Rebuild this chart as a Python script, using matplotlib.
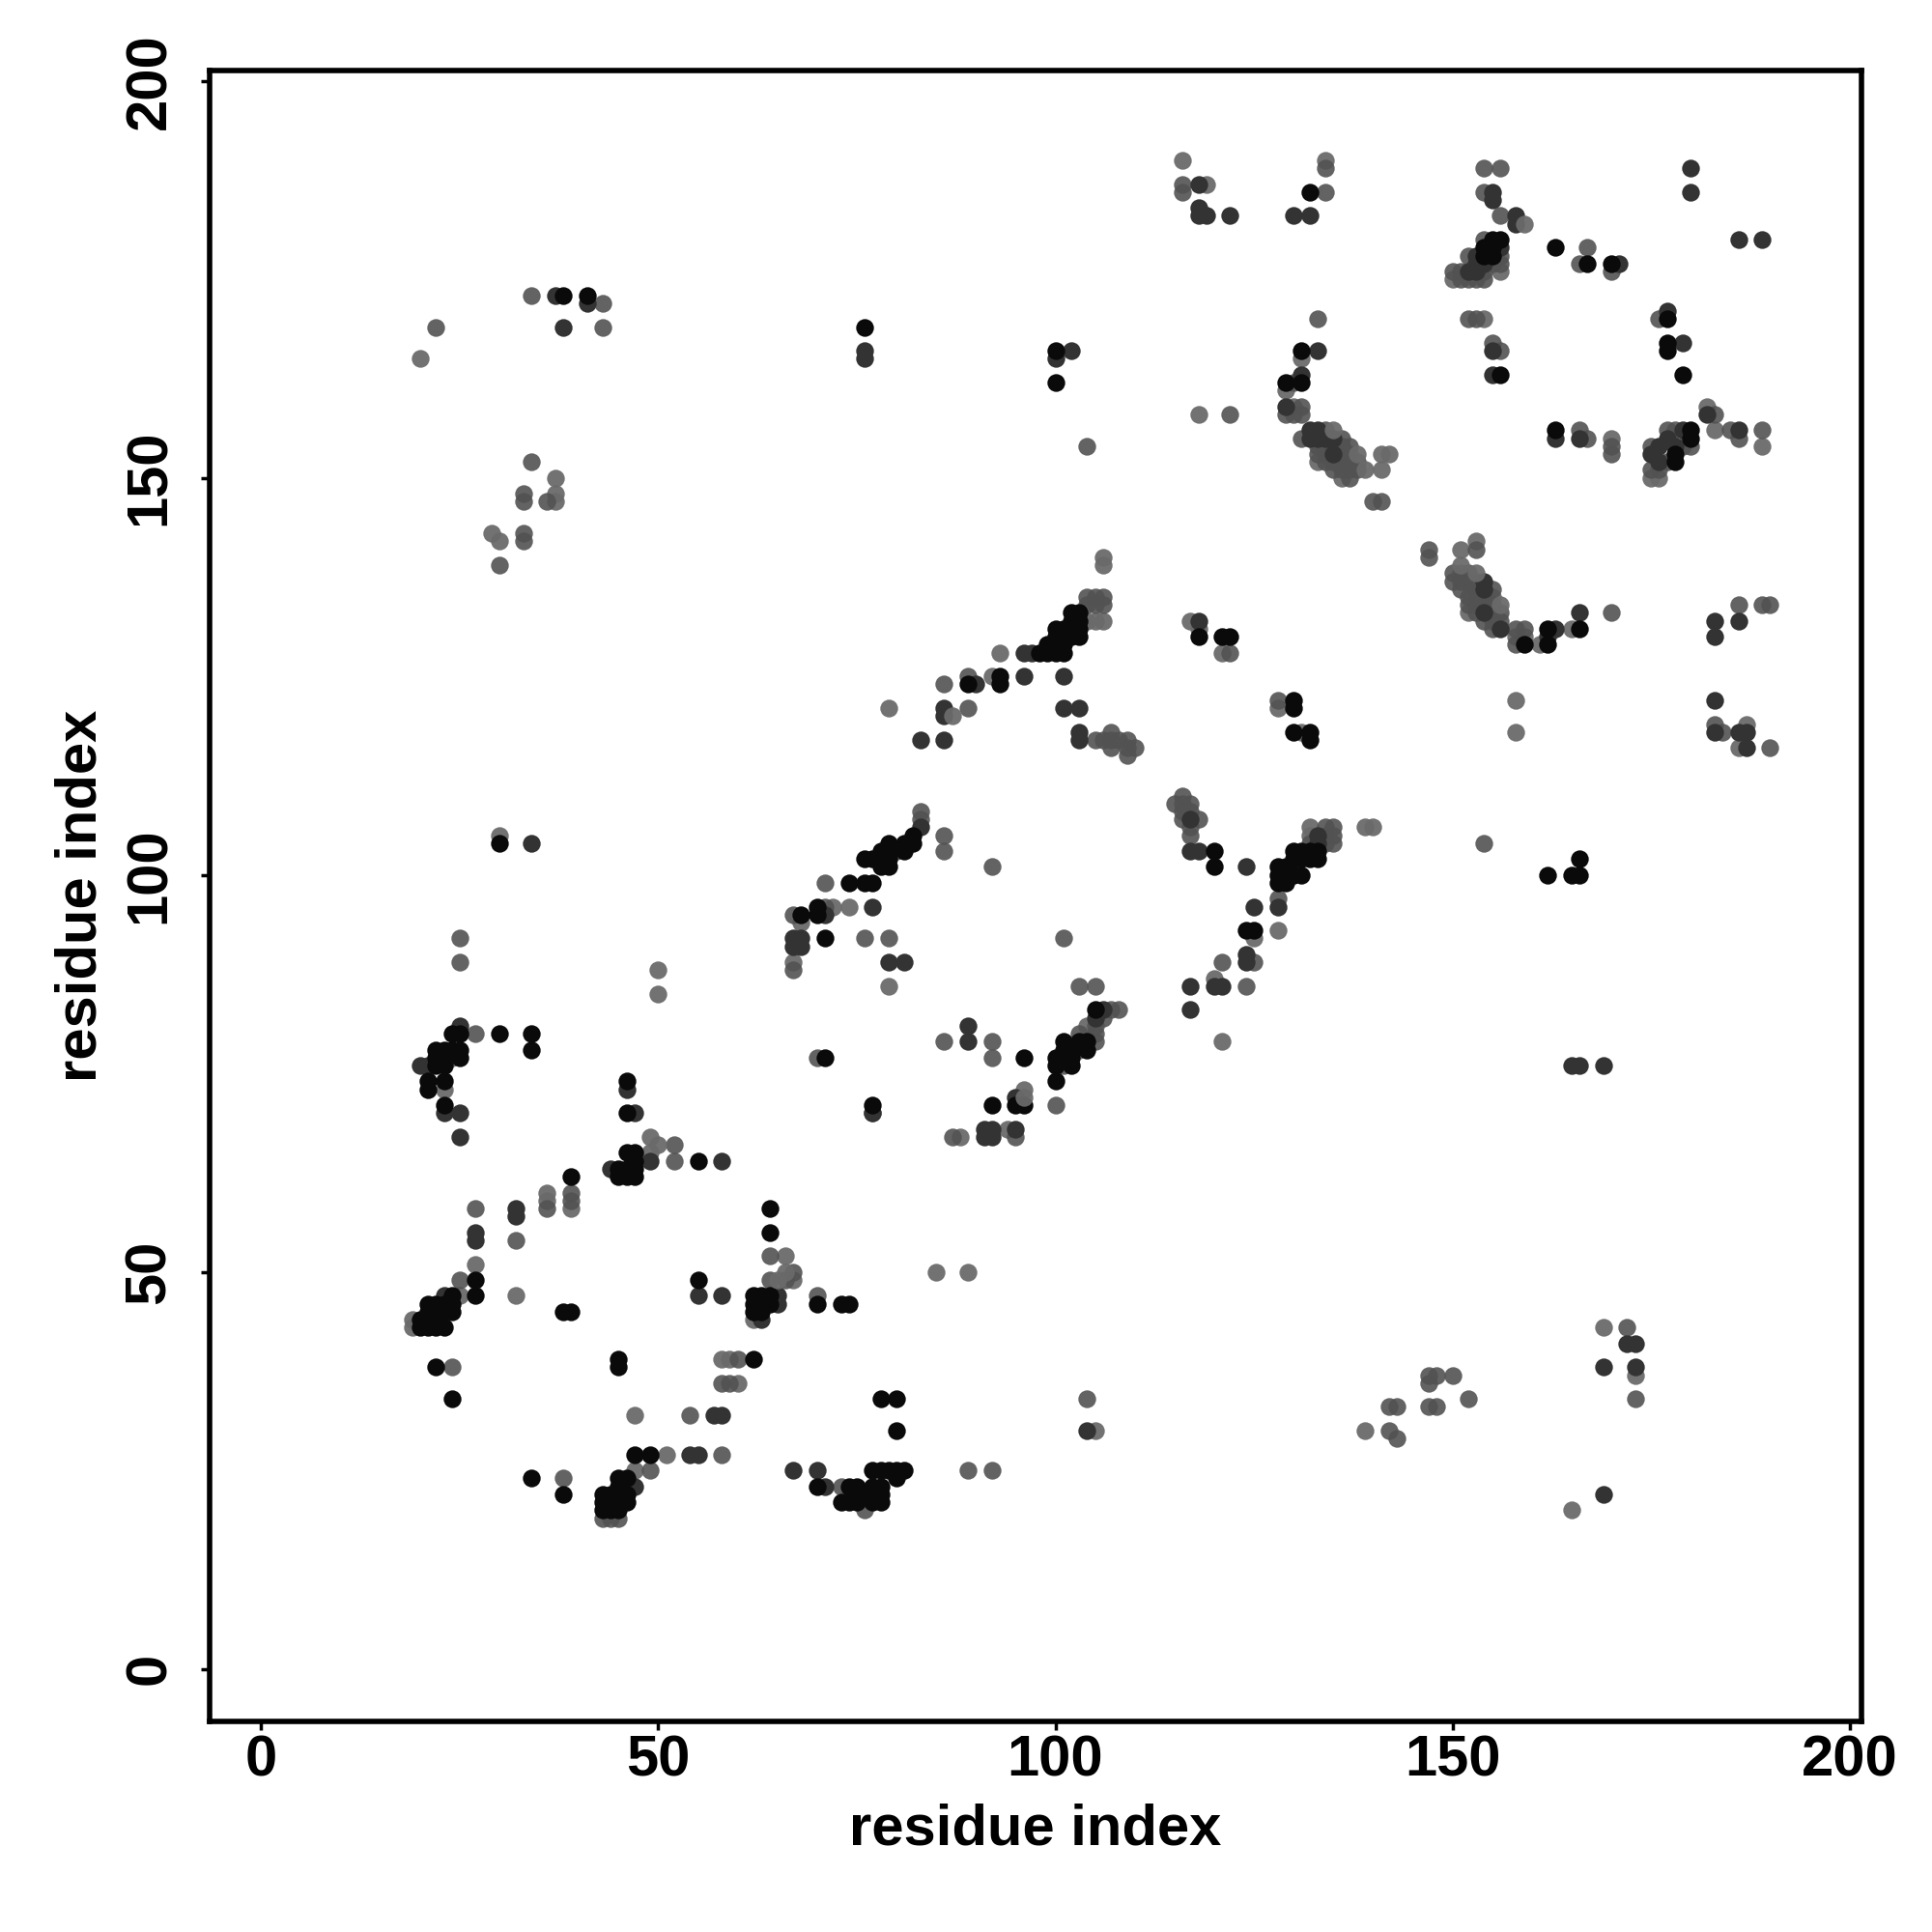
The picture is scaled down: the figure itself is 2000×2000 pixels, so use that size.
import matplotlib
matplotlib.use("Agg")
import matplotlib.pyplot as plt

# contacts grouped by how dark they are, (residue, residue)
light_points = [
    (49,65),(36,60),(36,59),(39,58),(27,51),(25,47),(32,47),(67,49),
    (66,52),(58,39),(59,39),(60,36),(47,32),(51,27),(47,25),(62,44),(19,44),(19,43),(105,30),(139,30),
    (50,88),(50,85),(85,50),(89,50),(24,77),(23,73),(72,96),(74,96),(68,94),(67,89),(79,86),(96,73),
    (94,68),(88,67),(103,78),(104,81),(121,79),(132,106),(132,105),(139,106),(140,106),(125,92),(128,93),
    (120,87),(106,140),(106,139),(104,132),(105,132),(106,132),(93,128),(92,125),(117,132),
    (118,131),(121,128),(128,121),(131,118),(79,121),(131,165),(129,161),(130,159),
    (133,152),(141,153),(142,153),(141,151),(136,150),(170,155),(151,141),(153,142),
    (151,138),(155,135),(152,133),(158,130),(159,130),(161,129),(165,131),
    (158,122),(158,118),(187,119),(186,116),(156,176),(150,175),(154,170),(182,159),(183,156),
    (175,150),(176,150),(189,154),(116,190),(119,187),(134,190),(118,158),(20,165),(37,150),(37,148),
    (37,147),(29,143),(30,142),(30,105),(173,37),(169,43),(165,20),
]
mid_points = [
    (52,66),(25,49),(52,64),(39,59),(39,60),(36,58),(32,54),(27,58),(64,52),(64,49),(66,49),(67,50),
    (70,47),(24,38),(58,36),(59,36),(60,39),(54,32),(58,27),(49,25),(38,24),(73,23),(43,19),(44,19),
    (45,19),(76,20),(89,25),(92,25),(104,34),(142,30),(143,29),(142,33),(143,33),(147,33),(148,33),
    (147,36),(147,37),(148,37),(150,37),(152,34),(172,43),(173,34),(27,80),(25,89),(25,92),(71,99),
    (67,95),(71,96),(76,92),(79,92),(67,88),(86,79),(92,79),(92,77),(87,67),(95,67),(100,71),
    (101,92),(92,101),(86,103),(86,105),(101,76),(103,80),(105,80),(105,79),(106,82),(107,83),(108,83),
    (103,86),(105,86),(70,77),(77,70),(124,86),(125,89),(121,89),(117,109),(115,109),(116,110),(116,109),
    (116,108),(117,108),(116,107),(118,107),(117,105),(117,106),(130,101),(132,104),(134,105),(135,105),
    (134,106),(135,106),(134,104),(135,104),(104,135),(105,135),(106,135),(104,134),(105,134),(106,134),
    (89,125),(86,124),(89,121),(105,117),(106,117),(107,118),(107,117),(107,116),(108,117),(109,117),
    (109,116),(110,116),(109,115),(83,108),(83,107),(128,122),(122,128),(129,158),(130,158),(131,159),
    (131,158),(130,162),(131,155),(134,156),(133,153),(134,152),(135,151),(136,155),(137,154),(137,152),
    (138,152),(137,151),(138,151),(137,150),(140,147),(141,147),(155,167),(156,166),(166,156),(167,155),
    (170,154),(170,153),(147,141),(147,140),(153,141),(150,138),(152,138),(150,137),(151,137),(152,137),
    (153,137),(155,136),(151,136),(153,136),(152,135),(154,135),(155,134),(152,134),(156,133),(155,132),
    (158,131),(159,131),(158,129),(170,133),(186,134),(189,134),(190,134),(183,119),(184,118),(190,116),
    (154,189),(156,189),(154,186),(156,183),(154,180),(152,178),(156,178),(156,177),(155,177),(150,176),
    (151,176),(154,176),(151,175),(152,175),(153,175),(154,175),(152,170),(153,170),(176,170),(166,177),
    (167,179),(170,176),(183,158),(185,156),(189,156),(186,155),(177,156),(178,156),(175,154),(179,154),
    (180,154),(177,152),(175,151),(176,151),(116,187),(116,186),(134,189),(134,186),(122,158),(104,154),
    (133,170),(22,169),(34,173),(43,172),(43,169),(34,152),(33,148),(33,147),(36,147),(33,143),(33,142),
    (30,139),(154,104),(128,97),(80,103),(105,81),
    (133,154),(134,154),(135,154),(136,154),(134,153),(136,153),(137,153),(135,152),(136,152),(136,151),
    (153,135),(153,134),(154,134),(153,133),(155,133),(154,132),(156,132),(155,131),
]
dark_points = [
    (23,70),(25,70),(47,70),(25,67),(77,70),(44,63),(49,64),(58,64),(32,58),(32,57),(27,55),(27,54),
    (23,47),(55,47),(58,47),(65,47),(65,46),(63,44),(57,32),(58,32),(54,27),(55,27),(67,25),(70,25),
    (71,23),(46,23),(47,23),(104,30),(169,22),(169,38),(172,41),(173,41),(173,38),(25,81),
    (20,76),(21,76),(46,73),(71,95),(67,92),(68,92),(67,91),(68,91),(77,96),(79,89),(81,89),(89,81),
    (89,79),(95,72),(91,68),(92,68),(95,68),(91,67),(92,67),(105,82),(106,83),(117,86),(120,86),(121,86),
    (117,83),(124,90),(124,89),(128,96),(125,96),(133,105),(133,104),(117,107),(117,103),(118,103),
    (124,101),(96,128),(97,128),(90,124),(96,125),(101,125),(86,121),(86,120),(101,121),(103,121),(83,117),
    (86,117),(103,118),(103,117),(83,106),(118,132),(131,163),(129,159),(132,156),(133,156),(134,155),
    (135,155),(132,155),(133,155),(135,153),(155,166),(155,163),(163,155),(166,155),(133,166),(154,137),
    (154,136),(154,133),(156,131),
    (162,130),(163,131),(166,133),(183,132),(186,132),(183,130),(183,122),(183,118),(186,118),(187,118),
    (187,116),(180,189),(180,186),(155,186),(155,185),(158,183),(158,182),(186,180),(189,180),
    (156,179),(153,178),(153,177),(154,177),(152,176),(153,176),(171,177),(177,171),(179,167),(182,158),
    (186,156),(176,154),(177,155),(179,156),(178,154),(175,153),(176,152),(118,187),(118,184),(118,183),
    (119,183),(122,183),(130,183),(132,183),(76,166),(76,165),(100,165),(102,166),(41,172),(38,169),
    (37,173),(34,104),(165,76),(166,76),(169,76),
]
black_points = [
    (46,70),(46,65),(47,65),(47,64),(45,63),(46,63),(47,63),(45,62),(46,62),(47,62),(39,62),(55,64),
    (27,49),(27,47),(24,47),(21,46),(22,46),(23,46),(24,46),(21,45),(22,45),(23,45),(24,45),(20,44),
    (21,44),(22,44),(20,43),(21,43),(22,43),(23,43),(38,45),(39,45),(55,49),(62,47),(63,47),(64,47),
    (62,46),(63,46),(64,46),(62,45),(63,45),(64,55),(64,58),(70,46),(73,46),(74,46),(45,39),(45,38),
    (22,38),(24,34),(62,39),(47,27),(49,27),(34,24),(45,24),(46,24),(38,22),(45,23),(43,22),(44,22),
    (45,22),(46,22),(43,21),(44,21),(46,21),(43,20),(44,20),(45,20),(70,23),(74,23),(75,23),(73,21),
    (74,21),(75,21),(76,22),(77,22),(78,22),(77,23),(78,23),(77,21),(78,21),(77,25),(78,25),(79,25),
    (80,25),(81,25),(80,24),(80,30),(78,34),(80,34),(24,80),(25,80),(30,80),(34,80),(34,78),(22,78),
    (23,78),(24,78),(25,78),(22,77),(23,77),(25,77),(22,76),(23,76),(21,74),(23,74),(21,73),(23,71),
    (46,74),(76,102),(77,102),(78,103),(78,102),(78,101),(79,103),(79,102),(79,101),(79,104),(81,104),
    (81,103),(82,105),(82,104),(76,99),(77,99),(74,99),(70,96),(70,95),(68,95),(71,92),(71,77),(96,77),
    (100,77),(100,76),(100,74),(92,71),(95,71),(96,71),(77,71),(101,79),(101,78),(102,78),(101,77),
    (102,77),(102,76),(103,79),(104,79),(104,78),(105,83),(120,103),(120,101),(128,101),(129,101),
    (128,100),(129,100),(130,100),(128,99),(129,99),(130,103),(131,103),(130,102),(131,102),(132,102),
    (133,102),(132,103),(133,103),(131,100),(124,93),(125,93),(102,133),(103,133),(102,132),(103,132),
    (100,131),(101,131),(102,131),(103,131),(102,130),(103,130),(100,130),(101,130),(99,129),(100,129),
    (101,129),(98,128),(99,128),(100,128),(101,128),(93,125),(93,124),(89,124),(118,130),(121,130),
    (122,130),(130,122),(130,121),(130,118),(132,118),(132,117),(131,166),(131,162),(129,162),(76,169),
    (100,166),(100,162),(156,163),(163,156),(159,129),(162,129),(162,131),(166,131),(155,180),(156,180),
    (163,179),(167,177),(170,177),(177,170),(177,167),(177,166),(179,163),(180,156),(180,155),(178,153),
    (178,152),(132,186),(38,173),(41,173),(30,104),(162,100),(165,100),(166,100),(166,102),
    (154,179),(155,179),(154,178),(155,178),
]
# pale contacts that sit over the darker ones in the picture
top_points = [
    (49,67),(50,66),(65,49),(66,50),(96,72),(87,120),(135,156),(138,153),(139,151),
    (156,134),(153,138),(151,139),(159,182),
]

tick_values = [0, 50, 100, 150, 200]
axis_label = "residue index"

plt.rcParams["font.family"] = ["Liberation Sans", "DejaVu Sans"]
plt.rcParams["font.weight"] = "bold"

fig = plt.figure(figsize=(20, 20), dpi=100)
ax = fig.add_axes([217 / 2000, 1 - 1782 / 2000, 1710 / 2000, 1709 / 2000])

# light ones go first so the black clusters stay on top
layers = [
    (light_points, "#6a6a6a", 0.95),
    (mid_points, "#525252", 0.9),
    (dark_points, "#333333", 1.0),
    (black_points, "#0a0a0a", 1.0),
    (top_points, "#6a6a6a", 0.95),
]
for points, colour, alpha in layers:
    xs = [p[0] for p in points]
    ys = [p[1] for p in points]
    ax.scatter(xs, ys, s=175, c=colour, alpha=alpha, linewidths=0, clip_on=False)

ax.set_xlim(-6.5, 201.5)
ax.set_ylim(-6.6, 201.3)
ax.set_xticks(tick_values)
ax.set_yticks(tick_values)
ax.tick_params(axis="x", length=6.5, width=2.5, labelsize=43, pad=3)
ax.tick_params(axis="y", length=6.5, width=2.5, labelsize=43, pad=18)
for label in ax.get_yticklabels():
    label.set_rotation(90)
    label.set_va("center")
for spine in ax.spines.values():
    spine.set_linewidth(4)

ax.set_xlabel(axis_label, fontsize=43, fontweight="bold", labelpad=12)
ax.set_ylabel(axis_label, fontsize=43, fontweight="bold", labelpad=12)

fig.savefig("out.png", dpi=100, facecolor="white")
